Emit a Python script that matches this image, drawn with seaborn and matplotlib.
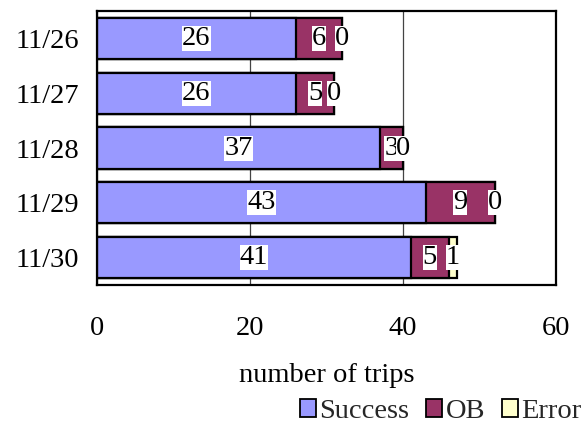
import matplotlib
matplotlib.use("Agg")
import matplotlib.pyplot as plt
from matplotlib.patches import Patch
import seaborn as sns
import pandas as pd

# Daily trip outcomes
dates = ["11/26", "11/27", "11/28", "11/29", "11/30"]
success = [26, 26, 37, 43, 41]
ob = [6, 5, 3, 9, 5]
error = [0, 0, 0, 0, 1]

series_names = ["Success", "OB", "Error"]
series_colors = ["#9999FF", "#993366", "#FFFFCC"]

sns.set_theme(style="white")
plt.rcParams["font.family"] = ["Liberation Serif", "DejaVu Serif"]
FS = 20.5

df = pd.DataFrame({"date": dates, "Success": success, "OB": ob, "Error": error})
df["cum_ob"] = df["Success"] + df["OB"]
df["cum_err"] = df["cum_ob"] + df["Error"]

fig = plt.figure(figsize=(5.87, 4.29), dpi=100)
ax = fig.add_axes([97 / 587, 1 - 285 / 429, (556 - 97) / 587, (285 - 11) / 429])

# Stacked bars: draw cumulative totals back to front
for col, color in [("cum_err", series_colors[2]), ("cum_ob", series_colors[1]),
                   ("Success", series_colors[0])]:
    sns.barplot(data=df, x=col, y="date", orient="h", color=color, width=0.75,
                edgecolor="black", linewidth=1.6, saturation=1, ax=ax, zorder=2)

# Segment value labels, centred on each segment
label_box = dict(boxstyle="square,pad=0", facecolor="white", edgecolor="none")
for i in range(len(dates)):
    starts = [0, success[i], success[i] + ob[i]]
    vals = [success[i], ob[i], error[i]]
    for s, v in zip(starts, vals):
        ax.text(s + v / 2, i, str(v), ha="center", va="center", fontsize=FS,
                color="black", bbox=label_box, zorder=5)

ax.set_xlim(0, 60)
ax.set_ylim(4.5, -0.5)
ax.set_xticks([0, 20, 40, 60])
ax.grid(axis="x", color="#444444", linewidth=0.9)
ax.grid(axis="y", visible=False)
ax.set_axisbelow(True)
for sp in ax.spines.values():
    sp.set_visible(True)
    sp.set_color("black")
    sp.set_linewidth(1.6)

ax.tick_params(axis="x", length=0, pad=22, labelsize=FS, colors="black")
ax.tick_params(axis="y", length=0, pad=13, labelsize=FS, colors="black")
ax.set_ylabel("")
ax.set_xlabel("number of trips", fontsize=FS, color="black", labelpad=16)

handles = [Patch(facecolor=c, edgecolor="black", linewidth=1.3) for c in series_colors]
fig.legend(handles, series_names, loc="lower right", bbox_to_anchor=(1.01, -0.015),
           ncol=3, frameon=False, fontsize=FS, handlelength=0.55, handleheight=0.55,
           handletextpad=0.12, columnspacing=0.6, borderaxespad=0.2, borderpad=0.2)

fig.savefig("out.png", dpi=100, facecolor="white")
